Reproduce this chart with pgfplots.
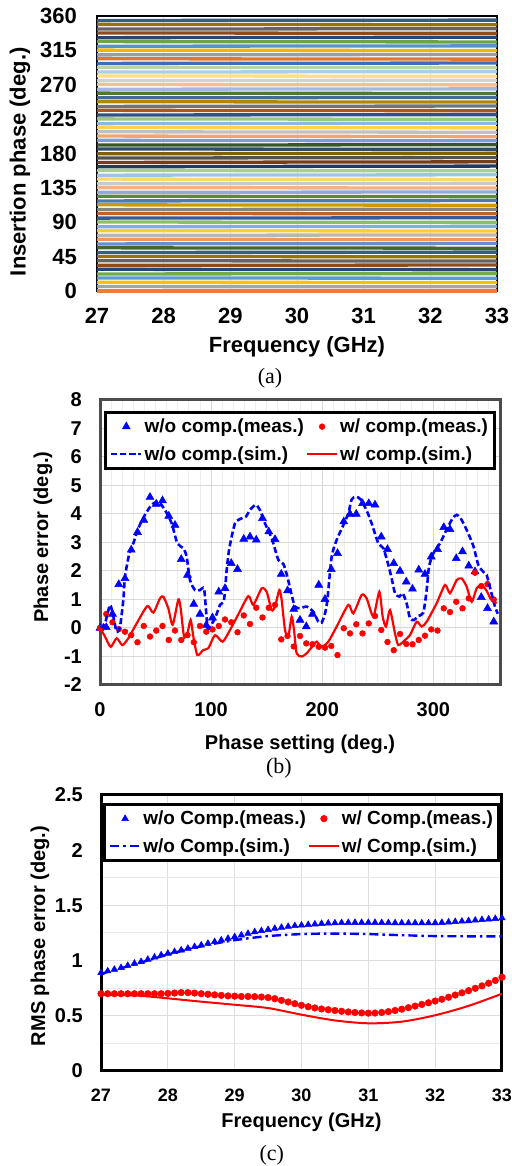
\documentclass[border=0pt]{standalone}
\usepackage{pgfplots}
\pgfplotsset{compat=1.18}
\usepackage{pgfplotstable}
\usepackage{fontspec}
\setmainfont{Liberation Sans}
\newfontfamily\capfont{Liberation Serif}
\newcommand\fontA{\fontsize{22}{26}\selectfont\bfseries}
\newcommand\fontB{\fontsize{20}{24}\selectfont\bfseries}
\newcommand\fontT{\fontsize{18}{22}\selectfont\bfseries}
\newcommand\fontL{\fontsize{19}{23}\selectfont\bfseries}
\newcommand\fontC{\capfont\fontsize{22}{26}\selectfont}
\pgfplotsset{legimg/.style={legend image code/.code={\draw[mark repeat=2,mark phase=2,##1] plot coordinates {(0pt,0pt) (15pt,0pt) (30pt,0pt)};}}}

\definecolor{fam0}{HTML}{4472C4}
\definecolor{fam1}{HTML}{ED7D31}
\definecolor{fam2}{HTML}{A5A5A5}
\definecolor{fam3}{HTML}{FFC000}
\definecolor{fam4}{HTML}{5B9BD5}
\definecolor{fam5}{HTML}{70AD47}
\foreach \s in {0,...,63}{%
  \pgfmathtruncatemacro\ff{mod(\s+1,6)}%
  \pgfmathtruncatemacro\lv{floor((\s+1)/6)}%
  \ifcase\lv \def\mx{!100!black}\or \def\mx{!60!black}\or \def\mx{!80!white}\or \def\mx{!80!black}\or \def\mx{!60!white}\or \def\mx{!50!black}\or \def\mx{!70!white}\or \def\mx{!70!black}\or \def\mx{!50!white}\or \def\mx{!95!black}\or \def\mx{!60!black}\fi
  \edef\tmp{\noexpand\xglobal\noexpand\colorlet{ph\s}{fam\ff\mx}}\tmp
}

\pgfplotstableread{
f s0 s1 s2 s3 s4 s5 s6 s7 s8 s9 s10 s11 s12 s13 s14 s15 s16 s17 s18 s19 s20 s21 s22 s23 s24 s25 s26 s27 s28 s29 s30 s31 s32 s33 s34 s35 s36 s37 s38 s39 s40 s41 s42 s43 s44 s45 s46 s47 s48 s49 s50 s51 s52 s53 s54 s55 s56 s57 s58 s59 s60 s61 s62 s63
27 0 5.8 11.4 17.1 22.3 28.4 33.5 39.6 45.2 50.4 56.5 61.6 67.8 72.9 79.0 84.1 90.3 95.4 101.5 106.6 112.8 117.9 124.0 129.1 135.3 140.4 146.5 151.6 157.8 162.6 168.2 174.0 179.6 185.9 191.0 197.2 202.8 208.4 214.0 219.1 225.3 230.4 236.5 241.6 247.8 252.9 259.0 264.1 270.3 275.4 281.5 286.6 292.8 297.9 304.0 309.1 315.3 320.4 326.5 331.6 337.8 342.9 349.0 354.1
30 0 5.63 11.25 16.88 22.5 28.13 33.75 39.38 45 50.63 56.25 61.88 67.5 73.13 78.75 84.38 90 95.63 101.25 106.88 112.5 118.13 123.75 129.38 135 140.63 146.25 151.88 157.5 163.13 168.75 174.38 180 185.63 191.25 196.88 202.5 208.13 213.75 219.38 225 230.63 236.25 241.88 247.5 253.13 258.75 264.38 270 275.63 281.25 286.88 292.5 298.13 303.75 309.38 315 320.63 326.25 331.88 337.5 343.13 348.75 354.38
33 0 5.5 11.1 16.7 22.7 27.9 34.0 39.2 44.8 50.9 56.0 62.1 67.3 73.4 78.5 84.6 89.8 95.9 101.0 107.1 112.3 118.4 123.5 129.6 134.8 140.9 146.0 152.1 157.3 163.5 169.1 174.7 180.3 185.4 191.5 196.6 202.0 207.8 213.5 219.7 224.7 230.9 236.0 242.1 247.3 253.4 258.5 264.6 269.8 275.9 281.0 287.1 292.3 298.4 303.5 309.6 314.8 320.9 326.0 332.1 337.3 343.4 348.5 354.6
}\phasetab

\pgfplotstableread{
x wo w
0 0.00 0.00
5.625 0.02 0.49
11.25 0.49 0.20
16.875 1.53 -0.04
22.5 1.74 -0.13
28.125 2.74 -0.25
33.75 3.36 -0.50
39.375 3.79 0.07
45 4.59 -0.30
50.625 4.35 -0.09
56.25 4.47 0.07
61.875 3.93 -0.42
67.5 3.61 -0.09
73.125 2.41 -0.42
78.75 1.86 -0.25
84.375 0.84 -0.50
90 0.49 0.07
95.625 0.10 -0.13
101.25 0.36 -0.05
106.875 1.27 0.07
112.5 1.39 0.30
118.125 2.27 0.20
123.75 2.06 -0.15
129.375 3.12 0.44
135 3.20 0.14
140.625 3.09 0.71
146.25 3.85 0.37
151.875 3.38 0.71
157.5 3.11 0.81
163.125 1.89 -0.40
168.75 1.31 -0.28
174.375 0.66 -0.65
180 0.28 -0.28
185.625 0.05 -0.54
191.25 0.49 -0.57
196.875 1.51 -0.66
202.5 1.01 -0.69
208.125 2.06 -0.63
213.75 2.62 -0.95
219.375 3.73 -0.01
225 4.00 -0.19
230.625 4.00 0.13
236.25 4.37 -0.19
241.875 4.37 0.16
247.5 4.32 0.42
253.125 3.20 -0.07
258.75 2.76 -0.49
264.375 2.27 -0.78
270 2.00 -0.21
275.625 1.62 -0.56
281.25 1.37 -0.57
286.875 2.04 -0.42
292.5 1.89 -0.27
298.125 2.50 -0.05
303.75 2.76 -0.09
309.375 3.53 0.69
315 3.46 0.56
320.625 2.44 0.92
326.25 2.68 0.69
331.875 2.18 1.04
337.5 1.98 1.94
343.125 1.08 1.47
348.75 0.69 1.54
354.375 0.22 1.00
}\tabB

\pgfplotstableread{
f wo w
27.0 0.890 0.700
27.1 0.905 0.700
27.2 0.920 0.700
27.3 0.935 0.700
27.4 0.955 0.700
27.5 0.975 0.700
27.6 0.990 0.700
27.7 1.010 0.700
27.8 1.030 0.700
27.9 1.050 0.700
28.0 1.065 0.703
28.1 1.080 0.706
28.2 1.095 0.710
28.3 1.110 0.710
28.4 1.125 0.706
28.5 1.140 0.700
28.6 1.155 0.695
28.7 1.170 0.690
28.8 1.185 0.685
28.9 1.200 0.680
29.0 1.215 0.678
29.1 1.230 0.675
29.2 1.245 0.675
29.3 1.260 0.673
29.4 1.270 0.670
29.5 1.280 0.665
29.6 1.290 0.655
29.7 1.300 0.640
29.8 1.308 0.625
29.9 1.315 0.610
30.0 1.320 0.595
30.1 1.325 0.582
30.2 1.330 0.571
30.3 1.335 0.562
30.4 1.338 0.555
30.5 1.340 0.548
30.6 1.342 0.541
30.7 1.343 0.535
30.8 1.344 0.530
30.9 1.344 0.526
31.0 1.344 0.524
31.1 1.344 0.525
31.2 1.343 0.530
31.3 1.342 0.538
31.4 1.341 0.548
31.5 1.340 0.560
31.6 1.340 0.574
31.7 1.340 0.588
31.8 1.340 0.603
31.9 1.340 0.618
32.0 1.341 0.634
32.1 1.344 0.650
32.2 1.348 0.668
32.3 1.352 0.688
32.4 1.356 0.708
32.5 1.360 0.728
32.6 1.365 0.749
32.7 1.370 0.771
32.8 1.375 0.795
32.9 1.380 0.820
33.0 1.385 0.850
}\tabC

\begin{document}
\begin{tikzpicture}
\path[use as bounding box] (0pt,0pt) rectangle (511pt,1166pt);

% ---------------- (a)
\begin{axis}[
  at={(97pt,875pt)}, anchor=south west, width=400pt, height=275pt, scale only axis,
  xmin=27, xmax=33, ymin=0, ymax=360,
  xtick={27,28,29,30,31,32,33}, ytick={0,45,90,135,180,225,270,315,360},
  xmajorgrids, grid style={draw=black!12, line width=0.8pt},
  major tick length=0pt,
  axis line style={draw=black, line width=1.5pt},
  clip=false,
  /pgf/number format/assume math mode=true,
  tick label style={font=\fontA, inner sep=0pt},
  xticklabel style={anchor=center, yshift=-25pt},
  yticklabel style={anchor=east, xshift=-20pt},
  xlabel={Frequency (GHz)}, ylabel={Insertion phase (deg.)},
  label style={font=\fontA},
  xlabel style={at={(axis description cs:0.5,-0.204)}, anchor=center},
  ylabel style={at={(axis description cs:-0.1925,0.47)}, anchor=center},
]
\pgfplotsinvokeforeach{0,...,63}{
  \addplot[color=ph#1, line width=3.3pt] table[x=f, y=s#1] {\phasetab};
}
\node[font=\fontC] at (axis description cs:0.4325,-0.316) {(a)};
\end{axis}

% ---------------- (b)
\begin{axis}[
  at={(100pt,481pt)}, anchor=south west, width=400pt, height=285pt, scale only axis,
  xmin=0, xmax=360, ymin=-2, ymax=8,
  clip mode=individual,
  xtick={0,100,200,300}, ytick={-2,-1,0,1,2,3,4,5,6,7,8},
  minor xtick={10,20,30,40,50,60,70,80,90,110,120,130,140,150,160,170,180,190,210,220,230,240,250,260,270,280,290,310,320,330,340,350},
  xmajorgrids, ymajorgrids, xminorgrids,
  major grid style={draw=black!15, line width=1pt},
  minor grid style={draw=black!7, line width=1pt},
  major tick length=0pt, minor tick length=0pt,
  axis line style={draw=black!70, line width=3pt},
  /pgf/number format/assume math mode=true,
  tick label style={font=\fontB, inner sep=0pt},
  xticklabel style={anchor=center, yshift=-25pt},
  yticklabel style={anchor=east, xshift=-18pt},
  xlabel={Phase setting (deg.)}, ylabel={Phase error (deg.)},
  label style={font=\fontB},
  xlabel style={at={(axis description cs:0.5,-0.207)}, anchor=center},
  ylabel style={at={(axis description cs:-0.1425,0.519)}, anchor=center},
  legend columns=2,
  legend cell align=left,
  legimg,
  legend style={at={(axis description cs:0.5,0.9614)}, anchor=north, draw=black, line width=3pt, fill=white,
    font=\fontL, inner xsep=4pt, inner ysep=4.5pt, row sep=8pt,
    /tikz/every even column/.append style={column sep=0pt}},
]
\addplot[only marks, mark=triangle*, mark size=4.6pt, color=blue, line width=0.5pt, legimg]
  table[x=x, y=wo] {\tabB};
\addlegendentry{w/o comp.(meas.)}
\addplot[only marks, mark=*, mark size=2.9pt, color=red, line width=0.5pt, legimg]
  table[x=x, y=w] {\tabB};
\addlegendentry{w/ comp.(meas.)}
\addplot[color=blue, line width=2.6pt, dash pattern=on 6pt off 3pt, smooth, tension=0.4, mark=none] coordinates {
(0,0) (4.5,0.16) (9,0.81) (12,0.4) (15,-0.13) (18,0.05) (21,0.98) (22.5,1.8) (26.4,2.62) (30,2.97) (34.5,3.5) (40.5,3.97) (46.5,4.32) (52.5,4.43) (58.5,4.14) (64.5,3.67) (69.6,2.97) (75,2.8) (78,2.5) (81,1.68) (85.5,1.33) (90,1.33) (93.6,1.39) (95.4,0.63) (96.9,-0.01) (99,0.05) (103.5,0.34) (108,0.81) (111.6,0.98) (114,2.03) (116.4,2.8) (121.5,3.67) (127.5,3.85) (131.4,3.91) (135,4.14) (140.1,4.32) (144,4.14) (148.5,3.67) (154.5,3.15) (160.5,2.39) (165,2.25) (168.6,1.8) (172.5,1.16) (175.5,0.75) (180,0.69) (186,0.75) (192,0.57) (196.5,0.22) (199.5,0.19) (202.5,0.51) (204.6,0.98) (208.5,2.5) (213,3.09) (219,3.61) (223.5,4.02) (226.5,4.51) (230.4,4.61) (234.6,4.51) (240,4.12) (244.5,3.67) (250.5,2.97) (255,2.8) (259.5,2.21) (262.5,1.74) (265.5,1.22) (269.4,1.1) (272.4,1.22) (276,0.86) (279,0.34) (282.6,0.28) (286.5,0.42) (291,0.54) (294,1.33) (296.1,2.15) (300,2.62) (306,2.97) (312,3.46) (317.4,3.85) (321,3.97) (324.6,3.85) (330,3.44) (336,2.88) (340.5,2.21) (345,1.97) (348,1.86) (351.6,1.33) (355.5,0.75) (358,0.5)
};
\addlegendentry{w/o comp.(sim.)}
\addplot[color=red, line width=2.2pt, smooth, tension=0.4, mark=none] coordinates {
(0,0) (4.5,-0.3) (9.6,-0.66) (15,-0.36) (20.1,-0.6) (25.5,-0.36) (33,0.16) (42.6,0.77) (48,0.54) (54,1.04) (57,1.1) (61.5,0.69) (65.4,0.11) (70.5,1.0) (72.6,0.69) (75.6,-0.3) (78.6,-0.19) (81.6,0.28) (84,-0.3) (87.6,-0.95) (93,-0.77) (97.5,-0.71) (103.5,-0.25) (110.4,-0.48) (117,-0.07) (124.5,0.48) (133.5,1.12) (138,0.81) (145.5,1.39) (150,1.27) (154.5,0.63) (157.5,0.75) (161.4,1.33) (163.5,0.98) (166.5,-0.07) (169.5,-0.3) (172.5,0.4) (174.6,-0.07) (177,-0.89) (181.5,-1.0) (186,-0.89) (192,-0.6) (195,-0.48) (199.5,-0.66) (205.5,-0.48) (213,0.05) (223.5,0.81) (228,0.51) (235.5,1.16) (240,1.04) (246,0.4) (251.4,1.27) (254.4,0.4) (257.4,0.05) (261,0.63) (265.5,-0.19) (268.5,-0.6) (274.5,-0.42) (279,-0.25) (285,0.22) (289.5,0.05) (294,0.22) (303,0.87) (310.5,1.51) (315,1.22) (321,1.68) (325.5,1.74) (330,1.45) (334.5,0.92) (339,1.39) (343.5,1.51) (348,1.3) (352,1.0) (357,0.87)
};
\addlegendentry{w/ comp.(sim.)}
\node[font=\fontC] at (axis description cs:0.4475,-0.291) {(b)};
\end{axis}

% ---------------- (c)
\begin{axis}[
  at={(101pt,95pt)}, anchor=south west, width=401pt, height=276pt, scale only axis,
  xmin=27, xmax=33, ymin=0, ymax=2.5,
  clip mode=individual,
  xtick={27,28,29,30,31,32,33}, ytick={0,0.5,1,1.5,2,2.5},
  minor ytick={0.25,0.75,1.25,1.75,2.25},
  xmajorgrids, ymajorgrids, yminorgrids,
  major grid style={draw=black!13, line width=1pt},
  minor grid style={draw=black!9, line width=1pt},
  major tick length=0pt, minor tick length=0pt,
  axis line style={draw=black, line width=3pt},
  /pgf/number format/assume math mode=true,
  tick label style={font=\fontB, inner sep=0pt},
  xticklabel style={font=\fontT, anchor=center, yshift=-24pt},
  yticklabel style={anchor=east, xshift=-18pt},
  xlabel={Frequency (GHz)}, ylabel={RMS phase error (deg.)},
  label style={font=\fontB},
  xlabel style={at={(axis description cs:0.5,-0.185)}, anchor=center},
  ylabel style={at={(axis description cs:-0.152,0.489)}, anchor=center},
  legend columns=2,
  legend cell align=left,
  legimg,
  legend style={at={(axis description cs:0.501,0.971)}, anchor=north, draw=black, line width=3pt, fill=white,
    font=\fontL, inner xsep=4pt, inner ysep=4.5pt, row sep=8pt,
    /tikz/every even column/.append style={column sep=0pt}},
]
\addplot[only marks, mark=triangle*, mark size=3.8pt, color=blue, line width=0.5pt, legimg]
  table[x=f, y=wo] {\tabC};
\addlegendentry{w/o Comp.(meas.)}
\addplot[only marks, mark=*, mark size=3.3pt, color=red, line width=0.5pt, legimg]
  table[x=f, y=w] {\tabC};
\addlegendentry{w/ Comp.(meas.)}
\addplot[color=blue, line width=2.4pt, dash pattern=on 9pt off 4pt on 2.5pt off 4pt, smooth, mark=none] coordinates {
(27,0.88) (27.5,0.965) (28,1.055) (28.5,1.13) (29,1.185) (29.5,1.222) (30,1.24) (30.5,1.245) (31,1.24) (31.5,1.23) (32,1.222) (32.5,1.22) (33,1.22)
};
\addlegendentry{w/o Comp.(sim.)}
\addplot[color=red, line width=2pt, smooth, mark=none] coordinates {
(27,0.69) (27.5,0.685) (28,0.658) (28.5,0.628) (29,0.60) (29.5,0.57) (30,0.51) (30.5,0.458) (31,0.432) (31.5,0.447) (32,0.505) (32.5,0.59) (33,0.70)
};
\addlegendentry{w/ Comp.(sim.)}
\node[font=\fontC] at (axis description cs:0.426,-0.304) {(c)};
\end{axis}
\end{tikzpicture}
\end{document}
